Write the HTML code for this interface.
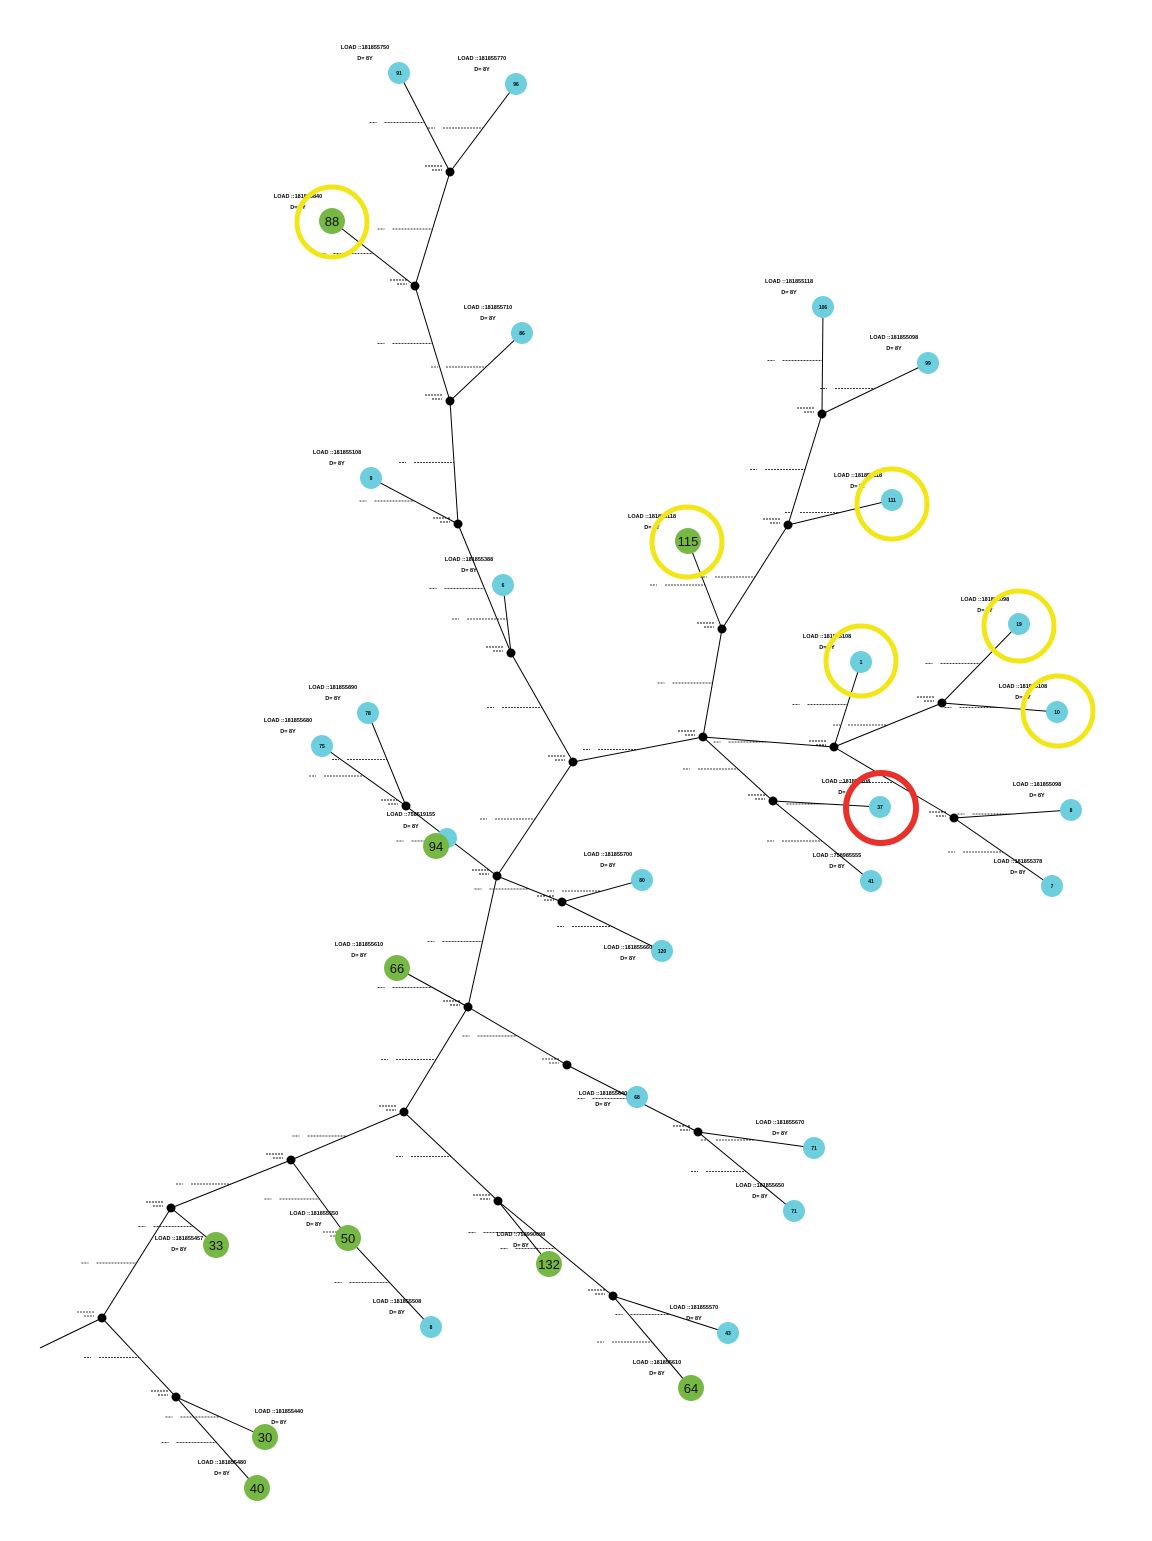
<!DOCTYPE html>
<html><head><meta charset="utf-8"><style>
html,body{margin:0;padding:0;background:#fff;}
svg{display:block}
text{font-family:"Liberation Sans",sans-serif;}
.l{font-size:5.5px;font-weight:bold;fill:#000;text-anchor:middle}
.n{font-size:5px;font-weight:bold;fill:#000;text-anchor:middle}
.g{font-size:13px;fill:#111;text-anchor:middle}
</style></head><body>
<svg id="s" width="1152" height="1541" viewBox="0 0 1152 1541" xmlns="http://www.w3.org/2000/svg">
<g id="dash" stroke="#000" stroke-width="0.8" stroke-dasharray="2 1"></g>
<g stroke="#000" stroke-width="1" fill="none">
<line x1="450" y1="172" x2="399" y2="73"/><line x1="450" y1="172" x2="516" y2="84"/>
<line x1="450" y1="172" x2="415" y2="286"/><line x1="415" y1="286" x2="332" y2="221"/>
<line x1="415" y1="286" x2="450" y2="401"/><line x1="450" y1="401" x2="522" y2="333"/>
<line x1="450" y1="401" x2="458" y2="524"/><line x1="458" y1="524" x2="371" y2="478"/>
<line x1="458" y1="524" x2="511" y2="653"/><line x1="511" y1="653" x2="503" y2="585"/>
<line x1="511" y1="653" x2="573" y2="762"/><line x1="573" y1="762" x2="703" y2="737"/>
<line x1="573" y1="762" x2="497" y2="876"/><line x1="703" y1="737" x2="722" y2="629"/>
<line x1="722" y1="629" x2="688" y2="541"/><line x1="722" y1="629" x2="788" y2="525"/>
<line x1="788" y1="525" x2="892" y2="500"/><line x1="788" y1="525" x2="822" y2="414"/>
<line x1="822" y1="414" x2="823" y2="307"/><line x1="822" y1="414" x2="928" y2="363"/>
<line x1="703" y1="737" x2="834" y2="747"/><line x1="834" y1="747" x2="861" y2="662"/>
<line x1="834" y1="747" x2="942" y2="703"/><line x1="942" y1="703" x2="1019" y2="624"/>
<line x1="942" y1="703" x2="1057" y2="712"/><line x1="834" y1="747" x2="954" y2="818"/>
<line x1="954" y1="818" x2="1071" y2="810"/><line x1="954" y1="818" x2="1052" y2="886"/>
<line x1="703" y1="737" x2="773" y2="801"/><line x1="773" y1="801" x2="880" y2="807"/>
<line x1="773" y1="801" x2="871" y2="881"/>
<line x1="497" y1="876" x2="406" y2="806"/><line x1="406" y1="806" x2="368" y2="713"/>
<line x1="406" y1="806" x2="322" y2="746"/>
<line x1="497" y1="876" x2="562" y2="902"/><line x1="562" y1="902" x2="642" y2="880"/>
<line x1="562" y1="902" x2="662" y2="951"/><line x1="497" y1="876" x2="468" y2="1007"/>
<line x1="468" y1="1007" x2="397" y2="968"/><line x1="468" y1="1007" x2="567" y2="1065"/>
<line x1="567" y1="1065" x2="698" y2="1132"/><line x1="698" y1="1132" x2="814" y2="1148"/>
<line x1="698" y1="1132" x2="794" y2="1211"/><line x1="468" y1="1007" x2="404" y2="1112"/>
<line x1="404" y1="1112" x2="291" y2="1160"/><line x1="291" y1="1160" x2="171" y2="1208"/>
<line x1="171" y1="1208" x2="216" y2="1245"/><line x1="171" y1="1208" x2="102" y2="1318"/>
<line x1="102" y1="1318" x2="40" y2="1348"/><line x1="102" y1="1318" x2="176" y2="1397"/>
<line x1="176" y1="1397" x2="265" y2="1437"/><line x1="176" y1="1397" x2="257" y2="1488"/>
<line x1="291" y1="1160" x2="348" y2="1238"/><line x1="348" y1="1238" x2="431" y2="1327"/>
<line x1="404" y1="1112" x2="498" y2="1201"/><line x1="498" y1="1201" x2="549" y2="1264"/>
<line x1="498" y1="1201" x2="613" y2="1296"/><line x1="613" y1="1296" x2="728" y2="1333"/>
<line x1="613" y1="1296" x2="691" y2="1388"/>
</g>
<g fill="#000">
<circle cx="450" cy="172" r="4.5"/><circle cx="415" cy="286" r="4.5"/><circle cx="450" cy="401" r="4.5"/>
<circle cx="458" cy="524" r="4.5"/><circle cx="511" cy="653" r="4.5"/><circle cx="573" cy="762" r="4.5"/>
<circle cx="703" cy="737" r="4.5"/><circle cx="722" cy="629" r="4.5"/><circle cx="788" cy="525" r="4.5"/>
<circle cx="822" cy="414" r="4.5"/><circle cx="834" cy="747" r="4.5"/><circle cx="942" cy="703" r="4.5"/>
<circle cx="954" cy="818" r="4.5"/><circle cx="773" cy="801" r="4.5"/><circle cx="406" cy="806" r="4.5"/>
<circle cx="497" cy="876" r="4.5"/><circle cx="562" cy="902" r="4.5"/><circle cx="468" cy="1007" r="4.5"/>
<circle cx="567" cy="1065" r="4.5"/><circle cx="698" cy="1132" r="4.5"/><circle cx="404" cy="1112" r="4.5"/>
<circle cx="291" cy="1160" r="4.5"/><circle cx="171" cy="1208" r="4.5"/><circle cx="102" cy="1318" r="4.5"/>
<circle cx="176" cy="1397" r="4.5"/><circle cx="498" cy="1201" r="4.5"/><circle cx="613" cy="1296" r="4.5"/>
</g>
<g fill="#6dcedd">
<circle cx="399" cy="73" r="11"/><circle cx="516" cy="84" r="11"/><circle cx="522" cy="333" r="11"/>
<circle cx="371" cy="478" r="11"/><circle cx="503" cy="585" r="11"/><circle cx="823" cy="307" r="11"/>
<circle cx="928" cy="363" r="11"/><circle cx="892" cy="500" r="11"/><circle cx="861" cy="662" r="11"/>
<circle cx="1019" cy="624" r="11"/><circle cx="1057" cy="712" r="11"/><circle cx="880" cy="807" r="11"/>
<circle cx="1071" cy="810" r="11"/><circle cx="1052" cy="886" r="11"/><circle cx="871" cy="881" r="11"/>
<circle cx="368" cy="713" r="11"/><circle cx="322" cy="746" r="11"/><circle cx="447" cy="838" r="10"/>
<circle cx="642" cy="880" r="11"/><circle cx="662" cy="951" r="11"/><circle cx="637" cy="1097" r="11"/>
<circle cx="814" cy="1148" r="11"/><circle cx="794" cy="1211" r="11"/><circle cx="431" cy="1327" r="11"/>
<circle cx="728" cy="1333" r="11"/>
</g>
<g fill="#76b843">
<circle cx="332" cy="221" r="13"/><circle cx="688" cy="541" r="13"/><circle cx="436" cy="846" r="13"/>
<circle cx="397" cy="968" r="13"/><circle cx="216" cy="1245" r="13"/><circle cx="348" cy="1238" r="13"/>
<circle cx="549" cy="1264" r="13"/><circle cx="691" cy="1388" r="13"/><circle cx="265" cy="1437" r="13"/>
<circle cx="257" cy="1488" r="13"/>
</g>
<g>
<text class="n" x="399" y="75">91</text><text class="n" x="516" y="86">96</text><text class="n" x="522" y="335">86</text>
<text class="n" x="371" y="480">9</text><text class="n" x="503" y="587">6</text><text class="n" x="823" y="309">106</text>
<text class="n" x="928" y="365">99</text><text class="n" x="892" y="502">111</text><text class="n" x="861" y="664">1</text>
<text class="n" x="1019" y="626">19</text><text class="n" x="1057" y="714">10</text><text class="n" x="880" y="809">37</text>
<text class="n" x="1071" y="812">8</text><text class="n" x="1052" y="888">7</text><text class="n" x="871" y="883">41</text>
<text class="n" x="368" y="715">78</text><text class="n" x="322" y="748">75</text>
<text class="n" x="642" y="882">80</text><text class="n" x="662" y="953">120</text><text class="n" x="637" y="1099">68</text>
<text class="n" x="814" y="1150">71</text><text class="n" x="794" y="1213">71</text><text class="n" x="431" y="1329">8</text>
<text class="n" x="728" y="1335">43</text>
<text class="g" x="332" y="226">88</text><text class="g" x="688" y="546">115</text><text class="g" x="436" y="851">94</text>
<text class="g" x="397" y="973">66</text><text class="g" x="216" y="1250">33</text><text class="g" x="348" y="1243">50</text>
<text class="g" x="549" y="1269">132</text><text class="g" x="691" y="1393">64</text><text class="g" x="265" y="1442">30</text>
<text class="g" x="257" y="1493">40</text>
</g>
<g>
<text class="l" x="365" y="49">LOAD ::181855750</text><text class="l" x="365" y="60">D= 8Y</text>
<text class="l" x="482" y="60">LOAD ::181855770</text><text class="l" x="482" y="71">D= 8Y</text>
<text class="l" x="298" y="198">LOAD ::181855840</text><text class="l" x="298" y="209">D= 8Y</text>
<text class="l" x="488" y="309">LOAD ::181855710</text><text class="l" x="488" y="320">D= 8Y</text>
<text class="l" x="337" y="454">LOAD ::181855108</text><text class="l" x="337" y="465">D= 8Y</text>
<text class="l" x="469" y="561">LOAD ::181855388</text><text class="l" x="469" y="572">D= 8Y</text>
<text class="l" x="652" y="518">LOAD ::181855118</text><text class="l" x="652" y="529">D= 8Y</text>
<text class="l" x="789" y="283">LOAD ::181855118</text><text class="l" x="789" y="294">D= 8Y</text>
<text class="l" x="894" y="339">LOAD ::181855098</text><text class="l" x="894" y="350">D= 8Y</text>
<text class="l" x="858" y="477">LOAD ::181855118</text><text class="l" x="858" y="488">D= 8Y</text>
<text class="l" x="827" y="638">LOAD ::181855108</text><text class="l" x="827" y="649">D= 8Y</text>
<text class="l" x="985" y="601">LOAD ::181855098</text><text class="l" x="985" y="612">D= 8Y</text>
<text class="l" x="1023" y="688">LOAD ::181855108</text><text class="l" x="1023" y="699">D= 8Y</text>
<text class="l" x="846" y="783">LOAD ::181855108</text><text class="l" x="846" y="794">D= 8Y</text>
<text class="l" x="1037" y="786">LOAD ::181855098</text><text class="l" x="1037" y="797">D= 8Y</text>
<text class="l" x="1018" y="863">LOAD ::181855378</text><text class="l" x="1018" y="874">D= 8Y</text>
<text class="l" x="837" y="857">LOAD ::758985555</text><text class="l" x="837" y="868">D= 8Y</text>
<text class="l" x="333" y="689">LOAD ::181855890</text><text class="l" x="333" y="700">D= 8Y</text>
<text class="l" x="288" y="722">LOAD ::181855680</text><text class="l" x="288" y="733">D= 8Y</text>
<text class="l" x="411" y="816">LOAD ::758519155</text><text class="l" x="411" y="828">D= 8Y</text>
<text class="l" x="608" y="856">LOAD ::181855700</text><text class="l" x="608" y="867">D= 8Y</text>
<text class="l" x="628" y="949">LOAD ::181855660</text><text class="l" x="628" y="960">D= 8Y</text>
<text class="l" x="359" y="946">LOAD ::181855610</text><text class="l" x="359" y="957">D= 8Y</text>
<text class="l" x="603" y="1095">LOAD ::181855640</text><text class="l" x="603" y="1106">D= 8Y</text>
<text class="l" x="780" y="1124">LOAD ::181855670</text><text class="l" x="780" y="1135">D= 8Y</text>
<text class="l" x="760" y="1187">LOAD ::181855650</text><text class="l" x="760" y="1198">D= 8Y</text>
<text class="l" x="179" y="1240">LOAD ::181855457</text><text class="l" x="179" y="1251">D= 8Y</text>
<text class="l" x="314" y="1215">LOAD ::181855550</text><text class="l" x="314" y="1226">D= 8Y</text>
<text class="l" x="397" y="1303">LOAD ::181855508</text><text class="l" x="397" y="1314">D= 8Y</text>
<text class="l" x="521" y="1236">LOAD ::758990098</text><text class="l" x="521" y="1247">D= 8Y</text>
<text class="l" x="694" y="1309">LOAD ::181855570</text><text class="l" x="694" y="1320">D= 8Y</text>
<text class="l" x="657" y="1364">LOAD ::181855610</text><text class="l" x="657" y="1375">D= 8Y</text>
<text class="l" x="279" y="1413">LOAD ::181855440</text><text class="l" x="279" y="1424">D= 8Y</text>
<text class="l" x="222" y="1464">LOAD ::181855480</text><text class="l" x="222" y="1475">D= 8Y</text>
</g>
<g fill="none" stroke="#f2e619" stroke-width="5">
<circle cx="332" cy="222" r="35"/><circle cx="687" cy="542" r="35"/><circle cx="892" cy="504" r="35"/>
<circle cx="861" cy="661" r="35"/><circle cx="1019" cy="626" r="35"/><circle cx="1058" cy="711" r="35"/>
</g>
<circle cx="881" cy="808" r="35" fill="none" stroke="#e8312a" stroke-width="6"/>
</svg>
<script>
var E=[[450,172,399,73],[450,172,516,84],[450,172,415,286],[415,286,332,221],[415,286,450,401],[450,401,522,333],[450,401,458,524],[458,524,371,478],[458,524,511,653],[511,653,503,585],[511,653,573,762],[573,762,703,737],[573,762,497,876],[703,737,722,629],[722,629,688,541],[722,629,788,525],[788,525,892,500],[788,525,822,414],[822,414,823,307],[822,414,928,363],[703,737,834,747],[834,747,861,662],[834,747,942,703],[942,703,1019,624],[942,703,1057,712],[834,747,954,818],[954,818,1071,810],[954,818,1052,886],[703,737,773,801],[773,801,880,807],[773,801,871,881],[497,876,406,806],[406,806,368,713],[406,806,322,746],[497,876,562,902],[562,902,642,880],[562,902,662,951],[497,876,468,1007],[468,1007,397,968],[468,1007,567,1065],[567,1065,698,1132],[698,1132,814,1148],[698,1132,794,1211],[468,1007,404,1112],[404,1112,291,1160],[291,1160,171,1208],[171,1208,216,1245],[171,1208,102,1318],[102,1318,176,1397],[176,1397,265,1437],[176,1397,257,1488],[291,1160,348,1238],[348,1238,431,1327],[404,1112,498,1201],[498,1201,549,1264],[498,1201,613,1296],[613,1296,728,1333],[613,1296,691,1388]];
var g=document.getElementById('dash'),ns='http://www.w3.org/2000/svg';
function ln(a,b,c,d){var l=document.createElementNS(ns,'line');l.setAttribute('x1',a);l.setAttribute('y1',b);l.setAttribute('x2',c);l.setAttribute('y2',d);g.appendChild(l);}
E.forEach(function(e){var mx=(e[0]+e[2])/2,my=(e[1]+e[3])/2;ln(mx-40,my,mx,my);ln(mx-55,my,mx-48,my);ln(e[0]-25,e[1]-6,e[0]-8,e[1]-6);ln(e[0]-18,e[1]-2,e[0]-8,e[1]-2);});
</script>
</body></html>
